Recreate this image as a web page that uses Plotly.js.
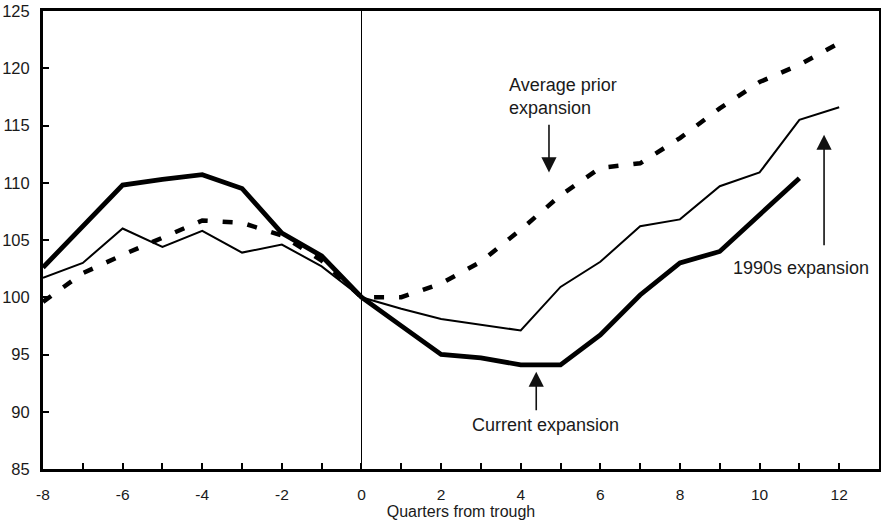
<!DOCTYPE html>
<html>
<head>
<meta charset="utf-8">
<script src="https://cdn.plot.ly/plotly-3.0.1.min.js"></script>
<style>html,body{margin:0;padding:0;background:#fff;}#chart{width:881px;height:521px;}</style>
</head>
<body>
<div id="chart"></div>
<script>
// Quarters from trough
const quartersFull = [-8,-7,-6,-5,-4,-3,-2,-1,0,1,2,3,4,5,6,7,8,9,10,11,12];
const quartersCurrent = [-8,-7,-6,-5,-4,-3,-2,-1,0,1,2,3,4,5,6,7,8,9,10,11];

// Series values (index, trough = 100)
const currentExpansion = [102.6,106.2,109.8,110.3,110.7,109.5,105.6,103.6,100,97.5,95.0,94.7,94.1,94.1,96.7,100.2,103.0,104.0,107.2,110.4];
const expansion1990s = [101.7,103.0,106.0,104.4,105.8,103.9,104.6,102.7,100,99.0,98.1,97.6,97.1,100.9,103.1,106.2,106.8,109.7,110.9,115.5,116.6];
const averagePrior = [99.6,102.1,103.7,105.2,106.7,106.5,105.4,103.2,100,100.0,101.2,103.1,105.9,108.9,111.3,111.7,113.9,116.5,118.8,120.3,122.2];

// Tick labels
const xTickVals = [-8,-7,-6,-5,-4,-3,-2,-1,0,1,2,3,4,5,6,7,8,9,10,11,12];
const xTickText = ['-8','','-6','','-4','','-2','','0','','2','','4','','6','','8','','10','','12'];
const yTickVals = [85,90,95,100,105,110,115,120,125];

const FONT = '"Liberation Sans", Arial, sans-serif';

const traces = [
  {x: quartersFull, y: averagePrior, mode: 'lines', name: 'Average prior expansion',
   line: {color: '#000', width: 4.5, dash: '10px,15px'}},
  {x: quartersFull, y: expansion1990s, mode: 'lines', name: '1990s expansion',
   line: {color: '#000', width: 2}},
  {x: quartersCurrent, y: currentExpansion, mode: 'lines', name: 'Current expansion',
   line: {color: '#000', width: 4.8}}
];

const arrowStyle = {showarrow: true, text: '', arrowhead: 2, arrowsize: 1.9, arrowwidth: 1.6,
  arrowcolor: '#111', axref: 'x', ayref: 'y', xref: 'x', yref: 'y', standoff: 0, startstandoff: 0};

const layout = {
  width: 881, height: 521,
  margin: {l: 43, r: 2, t: 11, b: 52, pad: 0},
  paper_bgcolor: '#fff', plot_bgcolor: '#fff',
  showlegend: false,
  font: {family: FONT, color: '#1a1a1a', size: 15},
  xaxis: {
    range: [-8, 13], tickmode: 'array', tickvals: xTickVals, ticktext: xTickText,
    showline: true, mirror: true, linewidth: 3, linecolor: '#000',
    ticks: 'inside', ticklen: 6, tickwidth: 2, tickcolor: '#000',
    showgrid: false, zeroline: true, zerolinecolor: '#000', zerolinewidth: 1.5,
    tickfont: {family: FONT, size: 15.5, color: '#1a1a1a'},
    ticklabelstandoff: 9,
    title: {text: 'Quarters from trough', font: {family: FONT, size: 16, color: '#1a1a1a'}, standoff: 0}
  },
  yaxis: {
    range: [85, 125], tickmode: 'array', tickvals: yTickVals,
    showline: true, mirror: true, linewidth: 3, linecolor: '#000',
    ticks: 'inside', ticklen: 6, tickwidth: 2, tickcolor: '#000',
    showgrid: false, zeroline: false,
    tickfont: {family: FONT, size: 16.5, color: '#1a1a1a'},
    ticklabelstandoff: 7
  },
  annotations: [
    {x: 3.66, y: 117.5, xref: 'x', yref: 'y', text: 'Average prior<br>expansion', showarrow: false,
     xanchor: 'left', yanchor: 'middle', align: 'left', font: {family: FONT, size: 18, color: '#1a1a1a'}},
    Object.assign({}, arrowStyle, {x: 4.71, y: 110.9, ax: 4.71, ay: 115.2}),
    {x: 4.61, y: 88.84, xref: 'x', yref: 'y', text: 'Current expansion', showarrow: false,
     xanchor: 'center', yanchor: 'middle', font: {family: FONT, size: 18, color: '#1a1a1a'}},
    Object.assign({}, arrowStyle, {x: 4.39, y: 93.5, ax: 4.39, ay: 90.0}),
    {x: 11.05, y: 102.55, xref: 'x', yref: 'y', text: '1990s expansion', showarrow: false,
     xanchor: 'center', yanchor: 'middle', font: {family: FONT, size: 18, color: '#1a1a1a'}},
    Object.assign({}, arrowStyle, {x: 11.62, y: 114.2, ax: 11.62, ay: 104.4})
  ]
};

Plotly.newPlot('chart', traces, layout, {displayModeBar: false, staticPlot: true});
</script>
</body>
</html>
